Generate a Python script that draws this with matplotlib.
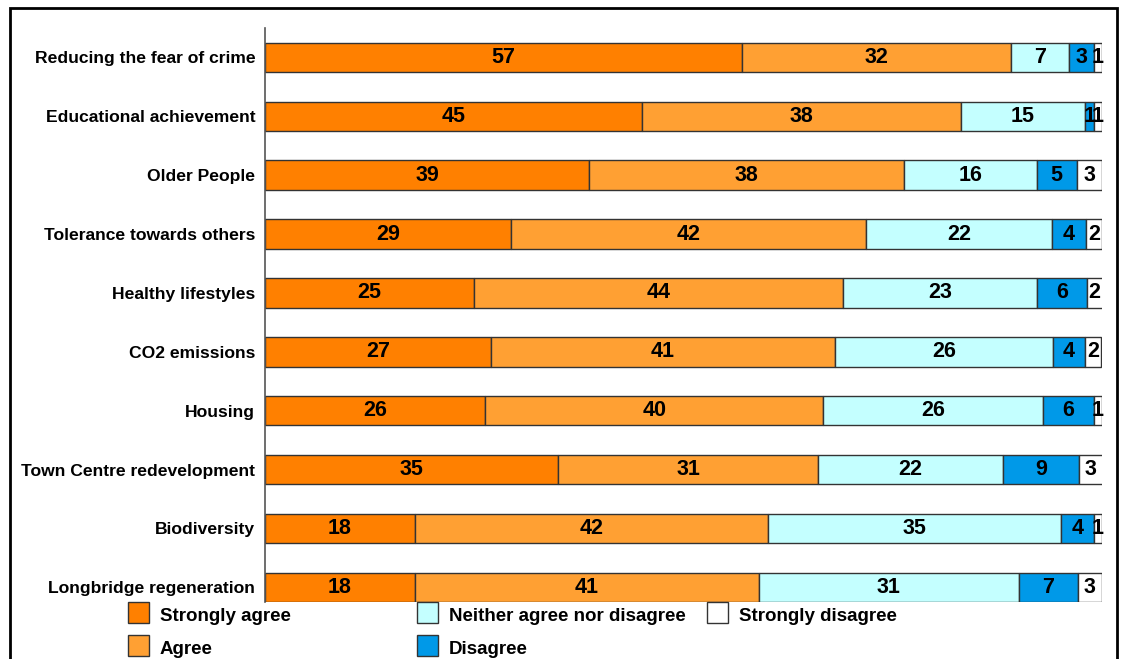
import numpy as np
import matplotlib.pyplot as plt
from matplotlib.patches import Rectangle

# Survey results, percent (widths)
categories = ['Reducing the fear of crime', 'Educational achievement', 'Older People',
              'Tolerance towards others', 'Healthy lifestyles', 'CO2 emissions',
              'Housing', 'Town Centre redevelopment', 'Biodiversity',
              'Longbridge regeneration']
series = ['Strongly agree', 'Agree', 'Neither agree nor disagree', 'Disagree',
          'Strongly disagree']

strongly_agree = [57.0, 45.0, 38.7, 29.4, 25.0, 27.0, 26.3, 35.0, 17.9, 17.9]
agree = [32.1, 38.1, 37.6, 42.4, 44.1, 41.1, 40.4, 31.1, 42.2, 41.1]
neither = [6.9, 14.9, 15.9, 22.2, 23.1, 26.0, 26.3, 22.1, 35.0, 31.1]
disagree = [3.0, 1.0, 4.8, 4.1, 6.0, 3.9, 6.0, 9.0, 3.9, 7.0]
strongly_disagree = [1.0, 1.0, 3.0, 1.9, 1.9, 1.9, 1.0, 2.9, 1.0, 2.9]

labels_sa = [57, 45, 39, 29, 25, 27, 26, 35, 18, 18]
labels_a = [32, 38, 38, 42, 44, 41, 40, 31, 42, 41]
labels_n = [7, 15, 16, 22, 23, 26, 26, 22, 35, 31]
labels_d = [3, 1, 5, 4, 6, 4, 6, 9, 4, 7]
labels_sd = [1, 1, 3, 2, 2, 2, 1, 3, 1, 3]

colors = ['#FF8000', '#FFA033', '#C4FFFF', '#0099E8', '#FFFFFF']

plt.rcParams['font.family'] = ['Liberation Sans', 'DejaVu Sans']

W, H = 1124, 659
fig = plt.figure(figsize=(W / 100, H / 100), dpi=100)
ax = fig.add_axes([265 / W, 1 - 602 / H, (1102 - 265) / W, (602 - 28) / H])

data = [strongly_agree, agree, neither, disagree, strongly_disagree]
labels = [labels_sa, labels_a, labels_n, labels_d, labels_sd]
y = np.arange(len(categories))
left = np.zeros(len(categories))
for vals, labs, col, name in zip(data, labels, colors, series):
    vals = np.array(vals)
    bars = ax.barh(y, vals, left=left, height=0.5, color=col,
                   edgecolor='#333333', linewidth=1, label=name)
    ax.bar_label(bars, labels=[str(l) for l in labs], label_type='center',
                 fontsize=15.5, fontweight='bold', color='black')
    left += vals

ax.set_xlim(0, 100)
ax.set_ylim(9.25, -0.5)
ax.set_yticks(y)
ax.set_yticklabels(categories, fontsize=12.6, fontweight='bold')
ax.tick_params(axis='y', length=0, pad=7)
ax.set_xticks([])
for s in ['top', 'right', 'bottom']:
    ax.spines[s].set_visible(False)
ax.spines['left'].set_color('#555555')
ax.spines['left'].set_linewidth(1.2)

# legend drawn by hand, Excel style fixed columns
leg_x = [128, 417, 707]
leg_y = [612, 645]
for i, (name, col) in enumerate(zip(series, colors)):
    cx = leg_x[i // 2]
    cy = leg_y[i % 2]
    fig.patches.append(Rectangle(((cx) / W, 1 - (cy + 10.5) / H), 21 / W, 21 / H,
                                 transform=fig.transFigure, facecolor=col,
                                 edgecolor='#333333', linewidth=1))
    fig.text((cx + 32) / W, 1 - (cy + 9) / H, name, fontsize=13.5, fontweight='bold',
             va='baseline', ha='left')

# outer frame
fig.patches.append(Rectangle((10 / W, -0.05), (1117 - 10) / W, 1.05 - 8 / H,
                             transform=fig.transFigure, fill=False,
                             edgecolor='black', linewidth=2, clip_on=False))

fig.savefig('out.png', dpi=100)
